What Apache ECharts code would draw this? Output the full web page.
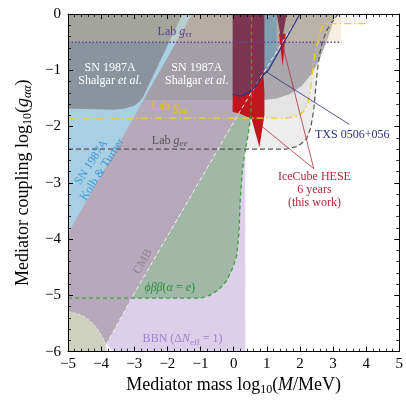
<!DOCTYPE html>
<html><head><meta charset="utf-8">
<script src="https://cdn.jsdelivr.net/npm/echarts@6/dist/echarts.min.js"></script>
<style>html,body{margin:0;padding:0;background:#fff}#c{width:406px;height:401px}</style>
</head><body><div id="c"></div>
<script>
// ---------- data (log10 mass [MeV], log10 coupling) ----------
const xTickValues = [-5,-4,-3,-2,-1,0,1,2,3,4,5];
const yTickValues = [-6,-5,-4,-3,-2,-1,0];

const bbnRegion = [[-5,0],[0.35,0],[0.35,-6],[-3.62,-6],[-3.85,-5.86],[-5,-5.3]];
const cmbLine = [[-3.85,-5.88],[-3.08,-5.05],[-2.0,-3.95],[-0.78,-2.72],[0.12,-1.8],[1.0,-0.95],[2.0,0]];
const cmbRegion = [[-5,0],[2.0,0],[1.0,-0.95],[0.12,-1.8],[-0.78,-2.72],[-2.0,-3.95],[-3.08,-5.05],[-3.85,-5.88],[-5,-5.88]];
const phiLine = [[-5,-5.05],[-1.0,-5.05],[-0.72,-5.0],[-0.45,-4.9],[-0.21,-4.74],[-0.02,-4.5],[0.09,-4.3],[0.16,-3.9],[0.2,-3.3],[0.26,-2.8],[0.33,-2.5],[0.45,-2.1],[0.52,-1.8],[0.54,-1.4],[0.54,0]];
const phiRegion = [[-3.08,-5.05],[-1.0,-5.05],[-0.72,-5.0],[-0.45,-4.9],[-0.21,-4.74],[-0.02,-4.5],[0.09,-4.3],[0.16,-3.9],[0.2,-3.3],[0.26,-2.8],[0.33,-2.5],[0.45,-2.1],[0.52,-1.8],[0.54,-1.39],[0.12,-1.8],[-0.78,-2.72],[-2.0,-3.95]];
const lowCorner = [[-5,-6],[-5,-5.29],[-4.85,-5.31],[-4.6,-5.35],[-4.43,-5.41],[-4.25,-5.5],[-4.13,-5.58],[-4.0,-5.7],[-3.89,-5.82],[-3.83,-6]];
const bbnEdge = [[0.35,-6],[0.35,-2.45]];
const kolbTurnerRegion = [[-5,0],[-1.25,0],[-5,-3.9]];
const shalgarLeft = [[-5,0],[-1.54,0],[-2.74,-1.48],[-2.85,-1.56],[-3.0,-1.63],[-3.3,-1.68],[-3.6,-1.7],[-5,-1.68]];
const shalgarRight = [[-1.25,0],[3.05,0],[2.95,-0.25],[2.8,-0.5],[2.6,-0.8],[2.35,-1.07],[2.05,-1.28],[1.7,-1.42],[1.3,-1.5],[0.9,-1.53],[-2.72,-1.53]];
const labTauLine = [[-5,-0.5],[3.25,-0.5]];
const labTauRegion = [[-5,0],[3.25,0],[3.25,-0.5],[-5,-0.5]];
const labMuLine = [[-5,-1.85],[1.6,-1.85],[1.9,-1.82],[2.1,-1.74],[2.22,-1.62],[2.3,-1.45],[2.35,-1.2],[2.4,-0.9],[2.47,-0.65],[2.57,-0.42],[2.66,-0.24],[2.75,-0.17],[4.0,-0.17]];
const labMuRegion = labMuLine.concat([[4.0,0],[-5,0]]);
const labELine = [[-5,-2.4],[1.6,-2.4],[1.95,-2.35],[2.2,-2.22],[2.33,-2.02],[2.42,-1.7],[2.48,-1.3],[2.53,-1.0],[2.6,-0.7],[2.68,-0.5],[2.8,-0.3],[2.98,-0.14],[3.15,0]];
const labERegion = labELine.concat([[-5,0]]);
const txsLine = [[-0.03,-1.43],[0.2,-1.46],[0.45,-1.4],[0.65,-1.3],[0.8,-1.16],[0.9,-1.08],[1.05,-1.0],[2.0,0]];
const txsRegion = [[0.93,0],[1.3,0],[1.3,-0.74],[1.05,-1.0],[0.93,-1.06]];
const iceMaroonMain = [[-0.03,0],[0.93,0],[0.93,-1.06],[0.9,-1.08],[0.8,-1.16],[0.65,-1.3],[0.45,-1.4],[0.2,-1.46],[-0.03,-1.43]];
const iceMaroonWedge = [[1.3,0],[1.6,0],[1.45,-0.5]];
const iceRedMain = [[-0.03,-1.43],[0.2,-1.46],[0.45,-1.4],[0.65,-1.3],[0.8,-1.16],[0.9,-1.08],[0.93,-1.4],[0.93,-1.79],[0.78,-2.37],[0.54,-1.86],[0.39,-1.82],[0.18,-1.77],[-0.03,-1.74]];
const iceRedSpike = [[1.37,-0.35],[1.57,-0.35],[1.48,-0.93]];
const txsPointer = [[0.99,-1.03],[3.49,-1.96]];
const icePointerA = [[0.84,-1.99],[2.42,-2.75]];
const icePointerB = [[1.45,-0.48],[2.42,-2.75]];

const annotations = [
  {at:[-1.78,-0.31], text:'Lab {i|g}{si|ττ}', color:'#5a3c98', rot:0},
  {at:[-3.73,-1.08], text:'SN 1987A\nShalgar {i|et al.}', color:'#ffffff', rot:0},
  {at:[-1.11,-1.08], text:'SN 1987A\nShalgar {i|et al.}', color:'#ffffff', rot:0},
  {at:[-1.93,-1.65], text:'Lab {i|g}{si|μμ}', color:'#e8c21a', rot:0},
  {at:[-1.93,-2.25], text:'Lab {i|g}{si|ee}', color:'#555555', rot:0},
  {at:[-4.13,-2.7], text:'SN 1987A\nKolb & Turner', color:'#3a98d8', rot:57},
  {at:[-2.74,-4.4], text:'CMB', color:'#8c8590', rot:60},
  {at:[-1.93,-4.86], text:'{i|ϕββ}({i|α} = {i|e})', color:'#2e8b3a', rot:0},
  {at:[-1.54,-5.77], text:'BBN (Δ{i|N}{s|eff} = 1)', color:'#9b82c9', rot:0},
  {at:[3.58,-2.15], text:'TXS 0506+056', color:'#2b2f80', rot:0},
  {at:[2.44,-3.13], text:'IceCube HESE\n6 years\n(this work)', color:'#b3283b', rot:0}
];

// ---------- helpers ----------
const SERIF = 'Liberation Serif';
let zc = 1;
function region(name, pts, fill) {
  return {
    type:'custom', name, z: zc++, silent:true, clip:true, data: pts,
    renderItem: (params, api) => params.dataIndex !== 0 ? null : ({
      type:'polygon', shape:{points: pts.map(p => api.coord(p))}, style:{fill: fill}
    })
  };
}
function curve(name, pts, color, width, dash) {
  return {
    type:'line', name, z: 30, silent:true, clip:true, data: pts, symbol:'none', showSymbol:false,
    lineStyle:{color, width, type: dash || 'solid'}, animation:false
  };
}
function richFor(color, size) {
  const sub = Math.round(size*0.72), pad = Math.round(size*0.55);
  return {
    i:{fill:color, fontSize:size, fontFamily:SERIF, fontStyle:'italic'},
    s:{fill:color, fontSize:sub, fontFamily:SERIF, padding:[pad,0,0,0]},
    si:{fill:color, fontSize:sub, fontFamily:SERIF, fontStyle:'italic', padding:[pad,0,0,0]}
  };
}
const labelSeries = {
  type:'custom', name:'labels', z:40, silent:true, data: annotations.map(a => a.at),
  renderItem: (params, api) => {
    const a = annotations[params.dataIndex];
    const p = api.coord(a.at);
    return {
      type:'text', x:p[0], y:p[1], rotation: a.rot*Math.PI/180,
      style:{text:a.text, fill:a.color, fontSize:12, fontFamily:SERIF, align:'center', verticalAlign:'middle',
             lineHeight:13, rich: richFor(a.color, 12)}
    };
  }
};

const minus = v => v < 0 ? '\u2212' + Math.abs(v) : String(v);
const axisCommon = {
  type:'value', z:50,
  axisLine:{show:true, onZero:false, lineStyle:{color:'#000', width:1}},
  axisTick:{show:true, inside:true, length:5, lineStyle:{color:'#000', width:1}},
  minorTick:{show:true, splitNumber:5, length:3, lineStyle:{color:'#000', width:0.8}},
  splitLine:{show:false}
};
const nameRich = {
  sub:{fontSize:12, fontFamily:SERIF, color:'#000', padding:[9,0,0,0]},
  subi:{fontSize:12, fontFamily:SERIF, color:'#000', fontStyle:'italic', padding:[9,0,0,0]},
  it:{fontSize:18, fontFamily:SERIF, color:'#000', fontStyle:'italic'}
};

const option = {
  animation:false,
  backgroundColor:'#fff',
  grid:{left:68, right:6, top:14, bottom:38},
  xAxis:[
    Object.assign({}, axisCommon, {min:-5, max:5, interval:1, position:'bottom',
      axisLabel:{formatter: minus, fontFamily:SERIF, fontSize:15, color:'#000', margin:5,
        customValues: xTickValues},
      name:'Mediator mass log{sub|10}({it|M}/MeV)', nameLocation:'middle', nameGap:14,
      nameTextStyle:{fontFamily:SERIF, fontSize:18, color:'#000', rich:nameRich}}),
    Object.assign({}, axisCommon, {min:-5, max:5, interval:1, position:'top', axisLabel:{show:false}})
  ],
  yAxis:[
    Object.assign({}, axisCommon, {min:-6, max:0, interval:1, position:'left',
      axisLabel:{formatter: minus, fontFamily:SERIF, fontSize:15, color:'#000', margin:7},
      name:'Mediator coupling log{sub|10}({it|g}{subi|αα})', nameLocation:'middle', nameGap:22, nameRotate:90,
      nameTextStyle:{fontFamily:SERIF, fontSize:18, color:'#000', rich:nameRich}}),
    Object.assign({}, axisCommon, {min:-6, max:0, interval:1, position:'right', axisLabel:{show:false}})
  ],
  series:[
    region('labE', labERegion, '#ededed'),
    region('labMu', labMuRegion, 'rgba(0,0,0,0.035)'),
    region('BBN', bbnRegion, '#dccfea'),
    region('phibb', phiRegion, '#a1b8a7'),
    region('CMB', cmbRegion, '#b6aaba'),
    region('corner', lowCorner, '#cdd1bd'),
    region('KolbTurner', kolbTurnerRegion, '#a9cfe4'),
    region('ShalgarL', shalgarLeft, 'rgba(132,140,146,0.88)'),
    region('ShalgarR', shalgarRight, 'rgba(160,158,162,0.85)'),
    region('labTau', labTauRegion, 'rgba(225,205,160,0.3)'),
    region('TXS', txsRegion, '#7f9fb3'),
    region('iceRedSpike', iceRedSpike, '#c1161e'),
    region('iceRed', iceRedMain, '#c1161e'),
    region('iceMaroon', iceMaroonMain, '#7c3551'),
    region('iceMaroonW', iceMaroonWedge, '#7c3551'),
    curve('labTauL', labTauLine, '#6a3fa0', 1.5, [1.5,2]),
    curve('labEL', labELine, '#555555', 1.2, [5,3]),
    curve('labMuL', labMuLine, '#f2cf1d', 1.3, [7,3,1.5,3]),
    curve('cmbL', cmbLine, '#f2f2f2', 1, [4,3]),
    curve('phiL', phiLine, '#3d9e3d', 1.3, [4,3]),
    curve('bbnL', bbnEdge, '#f1eaf8', 1, [4,3]),
    curve('cornerL', lowCorner.slice(1), '#e6def0', 1, [3,2]),
    curve('txsL', txsLine, '#2b2f80', 1.2),
    curve('txsP', txsPointer, '#2b2f80', 0.8),
    curve('iceA', icePointerA, '#b03040', 0.8),
    curve('iceB', icePointerB, '#b03040', 0.8),
    labelSeries
  ]
};
echarts.init(document.getElementById('c'), null, {renderer:'canvas'}).setOption(option);
</script>
</body></html>
